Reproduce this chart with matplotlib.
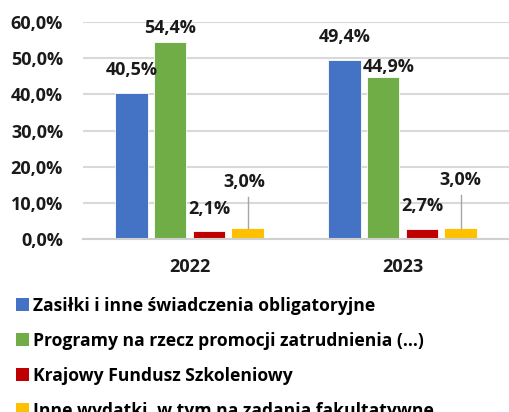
import matplotlib.pyplot as plt
from matplotlib.patches import Patch
from matplotlib.ticker import FuncFormatter

years = ["2022", "2023"]
series = [
    "Zasiłki i inne świadczenia obligatoryjne",
    "Programy na rzecz promocji zatrudnienia (…)",
    "Krajowy Fundusz Szkoleniowy",
    "Inne wydatki, w tym na zadania fakultatywne",
]
values = [
    [40.5, 49.4],
    [54.4, 44.9],
    [2.1, 2.7],
    [3.0, 3.0],
]
colors = ["#4472C4", "#70AD47", "#C00000", "#FFC000"]

# where Excel put the data labels (label centre, in % units)
label_y = [
    [46.7, 55.8],
    [58.3, 47.5],
    [8.3, 9.1],
    [15.8, 16.3],
]
label_dx = [
    [0.0, 0.0],
    [0.0, 0.025],
    [0.0, 0.0],
    [-0.015, 0.0],
]

plt.rcParams['font.family'] = ['Open Sans', 'DejaVu Sans']
plt.rcParams['font.weight'] = 'bold'

fig = plt.figure(figsize=(5.09, 4.12), dpi=100)
ax = fig.add_axes([83 / 509, 1 - 239 / 412, 1 - 83 / 509, (239 - 22) / 412])

width = 0.152
step = 0.182
for i, (vals, col) in enumerate(zip(values, colors)):
    off = (i - 1.5) * step
    for j, v in enumerate(vals):
        x = j + off
        ax.bar(x, v, width, color=col, edgecolor='white', linewidth=0.6, zorder=3)
        ly = label_y[i][j]
        ax.text(x + label_dx[i][j], ly, f"{v:.1f}%".replace('.', ','),
                ha='center', va='center', fontsize=13, fontweight='bold',
                color='#1a1a1a', zorder=5)
        if i == 3:
            ax.plot([x, x], [v, ly - 4.2], color='#A6A6A6', lw=1.0, zorder=4)

ax.set_xlim(-0.5, 1.5)
ax.set_ylim(0, 60)
ax.set_yticks(range(0, 61, 10))
ax.yaxis.set_major_formatter(FuncFormatter(lambda v, p: f"{v:.1f}%".replace('.', ',')))
ax.set_xticks([0, 1])
ax.set_xticklabels(years)
ax.tick_params(axis='both', length=0, labelsize=13, colors='#1a1a1a')
ax.tick_params(axis='y', pad=14.4)
ax.tick_params(axis='x', pad=14)
ax.grid(axis='y', color='#D9D9D9', lw=1.5, zorder=0)
for s in ['top', 'right', 'left']:
    ax.spines[s].set_visible(False)
ax.spines['bottom'].set_color('#D0D0D0')
ax.spines['bottom'].set_linewidth(1.5)
ax.spines['bottom'].set_zorder(4)

handles = [Patch(facecolor=c, edgecolor='none') for c in colors]
fig.legend(handles, series, loc='upper left', bbox_to_anchor=(16 / 509, 1 - 297 / 412),
           frameon=False, fontsize=12.6, handlelength=0.75, handleheight=0.75,
           handletextpad=0.23, labelspacing=0.97, borderaxespad=0, borderpad=0)

fig.savefig('out.png', dpi=100)
